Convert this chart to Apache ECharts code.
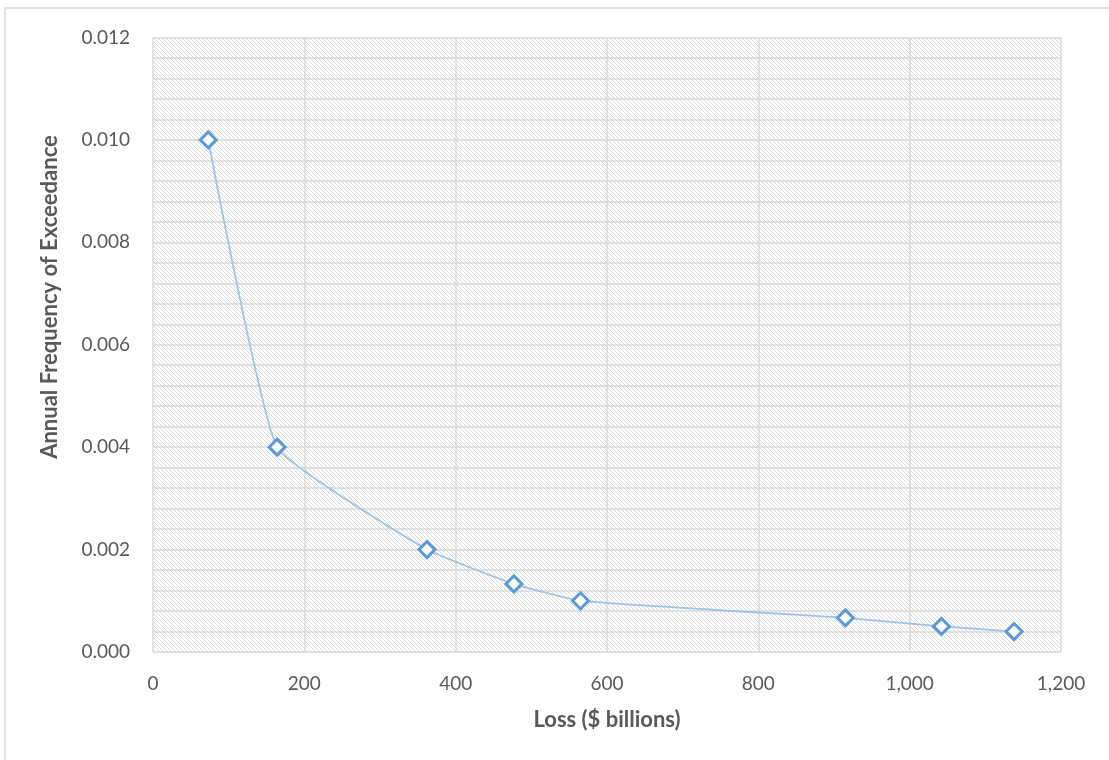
<!DOCTYPE html>
<html>
<head>
<meta charset="utf-8">
<script src="https://cdn.jsdelivr.net/npm/echarts@6/dist/echarts.min.js"></script>
<style>
html,body{margin:0;padding:0;background:#fff;}
#chart{width:1109px;height:760px;}
</style>
</head>
<body>
<div id="chart"></div>
<script>
// Data
const lossBillions = [73, 164, 362, 477, 565, 915, 1042, 1138];
const annualFreq = [0.010, 0.004, 0.002, 0.00133, 0.001, 0.000667, 0.0005, 0.0004];
const xTicks = [0, 200, 400, 600, 800, 1000, 1200];
const yTicks = [0.000, 0.002, 0.004, 0.006, 0.008, 0.010, 0.012];
const xTitle = 'Loss ($ billions)';
const yTitle = 'Annual Frequency of Exceedance';

// hatch pattern
const pc = document.createElement('canvas');
pc.width = 4; pc.height = 4;
const pctx = pc.getContext('2d');
pctx.fillStyle = '#ffffff';
pctx.fillRect(0,0,4,4);
pctx.fillStyle = '#dadada';
for (let i = 0; i < 4; i++) pctx.fillRect(i, i, 1, 1);

const chart = echarts.init(document.getElementById('chart'), null, {renderer: 'canvas'});
const font = 'Lato, "Open Sans", sans-serif';
const seriesData = lossBillions.map((x, i) => [x, annualFreq[i]]);

chart.setOption({
  backgroundColor: '#ffffff',
  animation: false,
  grid: {
    left: 153, top: 37.5, right: 48, bottom: 108,
    show: true,
    backgroundColor: {image: pc, repeat: 'repeat'},
    borderWidth: 0
  },
  xAxis: {
    type: 'value',
    min: xTicks[0], max: xTicks[xTicks.length - 1], interval: 200,
    axisLine: {show: false},
    axisTick: {show: false},
    axisLabel: {
      color: '#595959', fontSize: 19, fontFamily: font, margin: 22,
      formatter: v => v.toLocaleString('en-US')
    },
    splitLine: {show: true, showMinLine: true, showMaxLine: true, lineStyle: {color: '#d9d9d9', width: 1.5}}
  },
  yAxis: {
    type: 'value',
    min: yTicks[0], max: yTicks[yTicks.length - 1], interval: 0.002,
    axisLine: {show: false},
    axisTick: {show: false},
    minorTick: {show: false, splitNumber: 5},
    axisLabel: {
      color: '#595959', fontSize: 19, fontFamily: font, margin: 23,
      formatter: v => v.toFixed(3)
    },
    splitLine: {show: true, showMinLine: true, showMaxLine: true, lineStyle: {color: '#d9d9d9', width: 1.5}},
    minorSplitLine: {show: true, lineStyle: {color: '#d9d9d9', width: 1.5}}
  },
  graphic: [
    {
      type: 'rect', silent: true, z: -1,
      shape: {x: 5, y: 8, width: 1300, height: 900},
      style: {fill: 'none', stroke: '#d9d9d9', lineWidth: 1.5}
    },
    {
      type: 'text', x: 607, y: 720,
      style: {text: xTitle, fontWeight: 'bold', fontSize: 22, fontFamily: font, fill: '#595959', align: 'center', verticalAlign: 'middle'}
    },
    {
      type: 'text', x: 50, y: 297, rotation: Math.PI / 2,
      style: {text: yTitle, fontWeight: 'bold', fontSize: 22, fontFamily: font, fill: '#595959', align: 'center', verticalAlign: 'middle'}
    }
  ],
  series: [{
    type: 'line',
    data: seriesData,
    smooth: 0.12,
    symbol: 'diamond',
    symbolSize: 16,
    lineStyle: {color: '#9dc3e6', width: 1.75},
    itemStyle: {color: '#ffffff', borderColor: '#5b9bd5', borderWidth: 3},
    z: 5
  }]
});
</script>
</body>
</html>
